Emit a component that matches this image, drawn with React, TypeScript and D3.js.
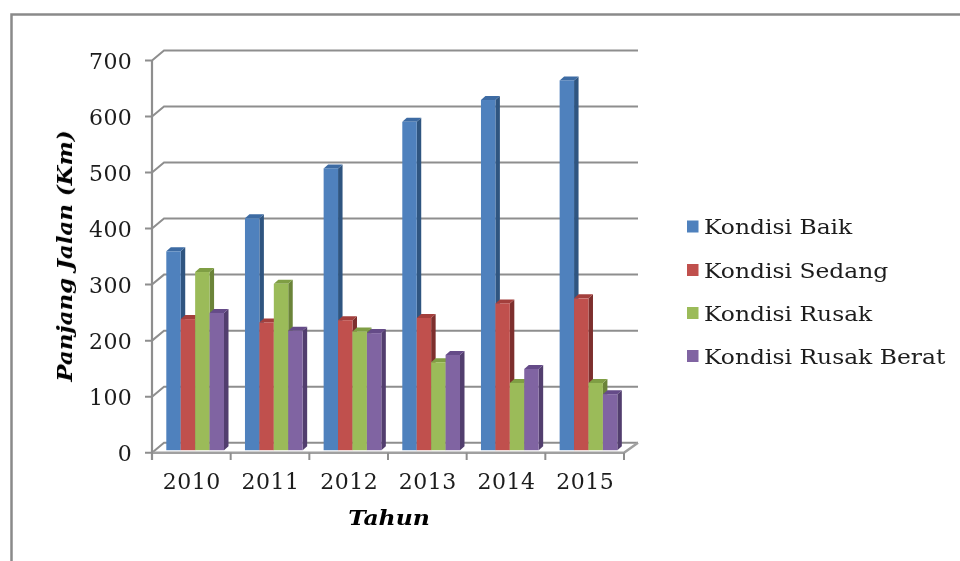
import React from 'react';
import * as d3 from 'd3';

const years = ['2010', '2011', '2012', '2013', '2014', '2015'];
const seriesNames = ['Kondisi Baik', 'Kondisi Sedang', 'Kondisi Rusak', 'Kondisi Rusak Berat'];
const kondisiBaik = [355, 414, 503, 586, 625, 660];
const kondisiSedang = [234, 228, 232, 236, 262, 271];
const kondisiRusak = [318, 297, 212, 157, 120, 120];
const kondisiRusakBerat = [245, 213, 209, 170, 145, 100];
const yTicks = [0, 100, 200, 300, 400, 500, 600, 700];

const allValues = [kondisiBaik, kondisiSedang, kondisiRusak, kondisiRusakBerat];
const frontColors = ['#4f81bd', '#c0504d', '#9bbb59', '#8064a2'];
const topColors = ['#3d6ba3', '#a33f3c', '#7f9e44', '#654b88'];
const sideColors = ['#2f5580', '#7d2f2d', '#6b8439', '#523e6e'];

const GRID = '#8e8e8e';
const SERIF = '"DejaVu Serif", serif';

const wallDx = 12;
const wallDy = -10;
const barDx = 4.5;
const barDy = -4;
const barLift = 2.5; // bars stand a bit behind the front edge of the floor
const legendY = [226.5, 270, 313, 356];

export default function App() {
  const x0 = d3.scaleBand<string>().domain(years).range([152, 624]);
  const x1 = d3.scaleBand<string>().domain(seriesNames).range([14.3, 72]);
  const y = d3.scaleLinear().domain([0, 700]).range([452.7, 60.5]);

  return (
    <svg
      width={960}
      height={561}
      style={{ position: 'absolute', left: 0, top: 0, background: '#fff' }}
    >
      <defs>
        <filter id="soft" x="-5%" y="-5%" width="110%" height="110%">
          <feGaussianBlur stdDeviation="0.35" />
        </filter>
      </defs>

      {/* outer frame, cut off by the picture */}
      <path d="M11.5 561V14.5H960" fill="none" stroke="#8a8a8a" strokeWidth={2.5} />

      {/* back wall grid and the short side lines */}
      {yTicks.map((t) => (
        <g key={t} fill="none" stroke={GRID} strokeWidth={2}>
          <path d={`M145 ${y(t)}H152L${152 + wallDx} ${y(t) + wallDy}H${624 + wallDx + 2}`} />
        </g>
      ))}

      {/* floor and axis lines */}
      <path
        d={`M${152} ${y(0)}H624L${624 + wallDx + 2} ${y(0) + wallDy}`}
        fill="none"
        stroke="#a0a0a0"
        strokeWidth={2.5}
      />
      <path d={`M152 ${y(700)}V460`} fill="none" stroke={GRID} strokeWidth={2.2} />
      {[...years, 'end'].map((d, i) => {
        const xp = 152 + i * x0.step();
        return <path key={d} d={`M${xp} ${y(0)}V460`} stroke={GRID} strokeWidth={2} />;
      })}

      {/* bars */}
      {years.map((year, i) =>
        seriesNames.map((name, s) => {
          const left = x0(year)! + x1(name)!;
          const w = x1.bandwidth();
          const bottom = y(0) - barLift;
          const top = y(allValues[s][i]) - barLift;
          return (
            <g key={year + name}>
              <polygon
                points={`${left + w},${top} ${left + w + barDx},${top + barDy} ${left + w + barDx},${bottom + barDy} ${left + w},${bottom}`}
                fill={sideColors[s]}
              />
              <polygon
                points={`${left},${top} ${left + barDx},${top + barDy} ${left + w + barDx},${top + barDy} ${left + w},${top}`}
                fill={topColors[s]}
              />
              <rect x={left} y={top} width={w} height={bottom - top} fill={frontColors[s]} />
            </g>
          );
        })
      )}

      <g filter="url(#soft)" fontFamily={SERIF} fill="#1c1c1c">
        {/* y tick labels */}
        {yTicks.map((t) => (
          <text key={t} x={132} y={y(t) + 8} textAnchor="end" fontSize={22} letterSpacing={0.3}>
            {t}
          </text>
        ))}

        {/* x tick labels */}
        {years.map((year) => (
          <text
            key={year}
            x={x0(year)! + x0.bandwidth() / 2 + 0.5}
            y={489}
            textAnchor="middle"
            fontSize={22}
            letterSpacing={0.5}
          >
            {year}
          </text>
        ))}

        {/* axis titles */}
        <text
          transform="translate(72,256) rotate(-90) scale(1.09,1)"
          textAnchor="middle"
          fontSize={21}
          fontWeight="bold"
          fontStyle="italic"
          fill="#000"
        >
          Panjang Jalan (Km)
        </text>
        <text
          transform="translate(389,525) scale(1.12,1)"
          textAnchor="middle"
          fontSize={21}
          fontWeight="bold"
          fontStyle="italic"
          fill="#000"
        >
          Tahun
        </text>

        {/* legend labels */}
        {seriesNames.map((name, s) => (
          <text
            key={name}
            transform={`translate(704,${legendY[s] + 7.5}) scale(1.115,1)`}
            fontSize={21}
          >
            {name}
          </text>
        ))}
      </g>

      {/* legend swatches */}
      {seriesNames.map((name, s) => (
        <rect key={name} x={687} y={legendY[s] - 6} width={11.5} height={12} fill={frontColors[s]} />
      ))}
    </svg>
  );
}
